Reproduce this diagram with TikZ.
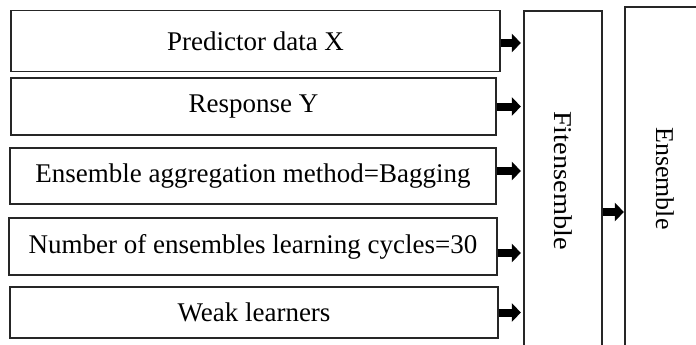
\documentclass[tikz,border=0pt]{standalone}
\usepackage{fontspec}
\usepackage{graphicx}
\setmainfont{Liberation Serif}
\usetikzlibrary{arrows.meta}

\begin{document}
\begin{tikzpicture}[x=1pt, y=-1pt,
  inbox/.style={draw=black!85, line width=1.2pt, inner sep=0pt,
    font=\fontsize{27}{32}\selectfont},
  tallbox/.style={draw=black!85, line width=1.2pt, inner sep=0pt,
    font=\fontsize{27}{32}\selectfont},
  feed/.style={line width=8pt, -{Triangle[length=9pt,width=18pt]}}
]
\useasboundingbox (0,0) rectangle (696,345);
\clip (0,0) rectangle (696,345);

% input boxes
\node[inbox, minimum width=489pt, minimum height=61pt] (b1) at (255.5,41) {Predictor data X};
\node[inbox, minimum width=485pt, minimum height=57pt] (b2) at (253.5,106.5) {Response Y};
\node[inbox, minimum width=486pt, minimum height=56pt] (b3) at (253,176) {Ensemble aggregation method=Bagging};
\node[inbox, minimum width=488pt, minimum height=57pt] (b4) at (253,246.5) {Number of ensembles learning cycles=30};
\node[inbox, minimum width=488pt, minimum height=51pt] (b5) at (254,312.5) {Weak learners};

% tall boxes, running past the lower edge
\node[tallbox, minimum width=78pt, minimum height=339pt] (fit) at (563,180.5)
  {\raisebox{2.5pt}{\rotatebox{-90}{\scalebox{1.05}[0.95]{Fitensemble}}}};
\node[tallbox, minimum width=80pt, minimum height=343pt] (ens) at (665,178.5)
  {\raisebox{4pt}{\rotatebox{-90}{\scalebox{0.96}[0.95]{Ensemble}}}};

% block arrows into the fitting step
\draw[feed, shorten >=2.5pt] ([yshift=-2pt]b1.east) -- ([yshift=-2pt]b1.east -| fit.west);
\draw[feed, shorten >=2.5pt] (b2.east) -- (b2.east -| fit.west);
\draw[feed, shorten >=2.5pt] ([yshift=5pt]b3.east) -- ([yshift=5pt]b3.east -| fit.west);
\draw[feed, shorten >=2.5pt] ([yshift=-6.5pt]b4.east) -- ([yshift=-6.5pt]b4.east -| fit.west);
\draw[feed, shorten >=2.5pt] (b5.east) -- (b5.east -| fit.west);

% result arrow
\draw[feed, shorten >=0.5pt] ([yshift=-31.5pt]fit.east) -- ([yshift=-31.5pt]fit.east -| ens.west);
\end{tikzpicture}
\end{document}
